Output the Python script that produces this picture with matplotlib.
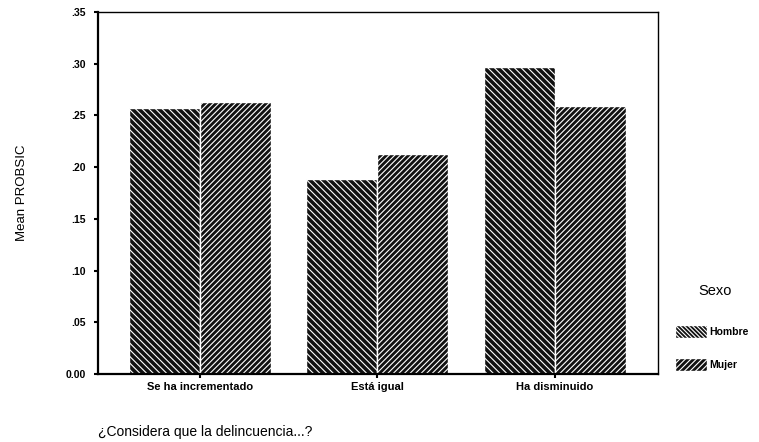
import numpy as np
import matplotlib.pyplot as plt
import matplotlib.patches as mpatches

plt.rcParams["font.family"] = ["Liberation Sans", "DejaVu Sans"]
plt.rcParams["hatch.linewidth"] = 0.8

categories = ["Se ha incrementado", "Está igual", "Ha disminuido"]
hombre = [0.257, 0.189, 0.297]
mujer = [0.263, 0.213, 0.259]
yticks = [0.00, 0.05, 0.10, 0.15, 0.20, 0.25, 0.30, 0.35]
ytick_labels = ["0.00", ".05", ".10", ".15", ".20", ".25", ".30", ".35"]

fig = plt.figure(figsize=(7.59, 4.42), dpi=100)
ax = fig.add_axes([98 / 759, 1 - 374 / 442, (658 - 98) / 759, (374 - 12) / 442])

x = np.arange(len(categories))
w = 0.4
ax.bar(x - w / 2, hombre, w, color="#111111", edgecolor="white",
       hatch="\\\\\\\\\\", linewidth=1)
ax.bar(x + w / 2, mujer, w, color="#111111", edgecolor="white",
       hatch="//////", linewidth=1)

ax.set_xlim(-0.573, 2.58)
ax.set_ylim(0, 0.35)
ax.set_yticks(yticks)
ax.set_yticklabels(ytick_labels, fontsize=7.5, fontweight="bold")
ax.set_xticks(x)
ax.set_xticklabels(categories, fontsize=8, fontweight="bold")
ax.tick_params(axis="both", direction="out", length=3, width=1.5, pad=3)
ax.tick_params(axis="y", pad=6)
for side in ["left", "bottom"]:
    ax.spines[side].set_linewidth(1.6)
for side in ["top", "right"]:
    ax.spines[side].set_linewidth(1.0)

ax.set_ylabel("Mean PROBSIC", fontsize=9.5, labelpad=27)
fig.text(98 / 759, 1 - 432 / 442, "¿Considera que la delincuencia...?",
         fontsize=10, ha="left", va="center")

# legend
fig.text(715 / 759, 1 - 291 / 442, "Sexo", fontsize=10.5, ha="center", va="center")
h1 = mpatches.Patch(facecolor="#111111", edgecolor="white", hatch="\\\\\\\\\\\\\\\\")
h2 = mpatches.Patch(facecolor="#111111", edgecolor="white", hatch="//////")
fig.legend([h1, h2], ["Hombre", "Mujer"], loc="center left",
           bbox_to_anchor=(666 / 759, 1 - 348 / 442), frameon=False,
           prop={"size": 7.5, "weight": "bold"}, handlelength=3.0,
           handleheight=1.6, labelspacing=1.9, handletextpad=0.3)

plt.savefig("out.png", dpi=100)
